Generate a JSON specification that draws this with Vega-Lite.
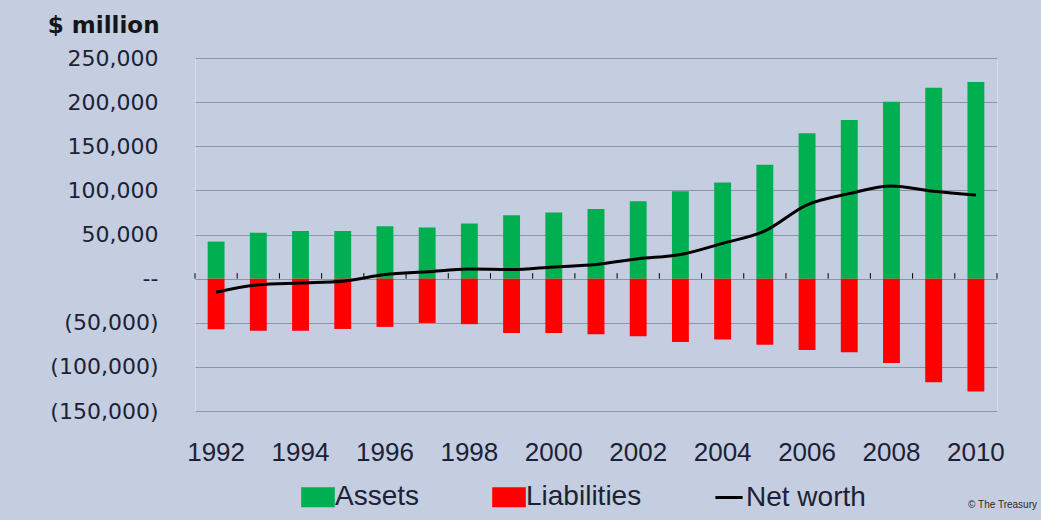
{
  "$schema": "https://vega.github.io/schema/vega-lite/v6.json",
  "width": 802,
  "height": 353,
  "autosize": {"type": "none"},
  "padding": {"left": 195, "top": 58, "right": 44, "bottom": 109},
  "background": "#c5cde1",
  "title": {
    "text": "© The Treasury",
    "orient": "bottom",
    "anchor": "end",
    "frame": "group",
    "fontSize": 10,
    "font": "Liberation Sans",
    "fontWeight": "normal",
    "color": "#2a2a2a",
    "dx": 40,
    "offset": -12
  },
  "data": {
    "values": [
      {"year": 1992, "assets": 42000, "liabilities": -57500, "net": -15500},
      {"year": 1993, "assets": 52000, "liabilities": -59000, "net": -7000},
      {"year": 1994, "assets": 54000, "liabilities": -59000, "net": -5000},
      {"year": 1995, "assets": 54000, "liabilities": -57000, "net": -3000},
      {"year": 1996, "assets": 59300, "liabilities": -54700, "net": 4600},
      {"year": 1997, "assets": 58000, "liabilities": -50200, "net": 7800},
      {"year": 1998, "assets": 62400, "liabilities": -51600, "net": 10800},
      {"year": 1999, "assets": 71800, "liabilities": -61500, "net": 10300},
      {"year": 2000, "assets": 74800, "liabilities": -61500, "net": 13300},
      {"year": 2001, "assets": 79000, "liabilities": -63000, "net": 16000},
      {"year": 2002, "assets": 87700, "liabilities": -65200, "net": 22500},
      {"year": 2003, "assets": 99000, "liabilities": -71700, "net": 27300},
      {"year": 2004, "assets": 109000, "liabilities": -69000, "net": 40000},
      {"year": 2005, "assets": 129000, "liabilities": -75000, "net": 54000},
      {"year": 2006, "assets": 164600, "liabilities": -81000, "net": 83600},
      {"year": 2007, "assets": 179700, "liabilities": -83400, "net": 96300},
      {"year": 2008, "assets": 200500, "liabilities": -95500, "net": 105000},
      {"year": 2009, "assets": 216400, "liabilities": -117400, "net": 99000},
      {"year": 2010, "assets": 222800, "liabilities": -128000, "net": 94800}
    ]
  },
  "encoding": {
    "x": {
      "field": "year",
      "type": "ordinal",
      "scale": {"type": "band", "paddingInner": 0.6, "paddingOuter": 0.3},
      "axis": {
        "orient": "bottom",
        "title": null,
        "domain": false,
        "ticks": false,
        "grid": false,
        "labelAngle": 0,
        "labelFont": "Liberation Sans",
        "labelFontSize": 26,
        "labelColor": "#1c2236",
        "labelPadding": 28,
        "labelExpr": "toNumber(datum.value) % 2 == 0 ? datum.label : ''"
      }
    },
    "color": {
      "scale": {
        "domain": ["Assets", "Liabilities", "Net worth"],
        "range": ["#00b050", "#ff0000", "#000000"]
      },
      "legend": {
        "orient": "none",
        "direction": "horizontal",
        "legendX": 109,
        "legendY": 425,
        "title": null,
        "labelFont": "Liberation Sans",
        "labelFontSize": 28,
        "labelColor": "#1c2236",
        "labelOffset": 3,
        "columnPadding": 67,
        "symbolSize": 289,
        "symbolStrokeWidth": 3,
        "encode": {
          "symbols": {
            "update": {
              "shape": {"signal": "datum.value === 'Net worth' ? 'M-1.6,0L1.6,0' : 'M-1.8,-1L1.8,-1L1.8,1L-1.8,1Z'"},
              "fill": {"signal": "datum.value === 'Net worth' ? 'transparent' : (datum.value === 'Assets' ? '#00b050' : '#ff0000')"},
              "stroke": {"signal": "datum.value === 'Net worth' ? '#000000' : 'transparent'"},
              "strokeWidth": {"value": 3},
              "opacity": {"value": 1}
            }
          }
        }
      }
    }
  },
  "layer": [
    {
      "mark": {"type": "bar"},
      "encoding": {
        "y": {
          "field": "assets",
          "type": "quantitative",
          "scale": {"domain": [-150000, 250000], "nice": false, "zero": false},
          "axis": {
            "values": [-150000, -100000, -50000, 0, 50000, 100000, 150000, 200000, 250000],
            "labelExpr": "datum.value == 0 ? '--' : (datum.value < 0 ? '(' + format(-datum.value, ',') + ')' : format(datum.value, ','))",
            "labelFont": "DejaVu Sans",
            "labelFontSize": 22,
            "labelColor": "#1c2236",
            "labelPadding": 37,
            "domain": false,
            "ticks": false,
            "grid": true,
            "gridColor": "#8b94aa",
            "gridWidth": 1,
            "title": "$ million",
            "titleAngle": 0,
            "titleAlign": "right",
            "titleBaseline": "alphabetic",
            "titleX": -36,
            "titleY": -26,
            "titleFont": "DejaVu Sans",
            "titleFontSize": 23,
            "titleFontWeight": "bold",
            "titleColor": "#151515"
          }
        },
        "color": {"datum": "Assets"}
      }
    },
    {
      "mark": {"type": "bar"},
      "encoding": {
        "y": {"field": "liabilities", "type": "quantitative"},
        "color": {"datum": "Liabilities"}
      }
    },
    {
      "mark": {"type": "rule", "color": "#000000", "strokeWidth": 1.5},
      "encoding": {
        "y": {"datum": 0}
      }
    },
    {
      "mark": {"type": "rule", "color": "#000000", "strokeWidth": 1, "xOffset": -21.1},
      "encoding": {
        "x": {"field": "year", "type": "ordinal"},
        "y": {"datum": 0},
        "y2": {"datum": 6200}
      }
    },
    {
      "transform": [{"filter": "datum.year == 2010"}],
      "mark": {"type": "rule", "color": "#000000", "strokeWidth": 1, "xOffset": 21.1},
      "encoding": {
        "x": {"field": "year", "type": "ordinal"},
        "y": {"datum": 0},
        "y2": {"datum": 6200}
      }
    },
    {
      "mark": {"type": "line", "interpolate": "monotone", "strokeWidth": 3},
      "encoding": {
        "y": {"field": "net", "type": "quantitative"},
        "color": {"datum": "Net worth"}
      }
    }
  ]
}
